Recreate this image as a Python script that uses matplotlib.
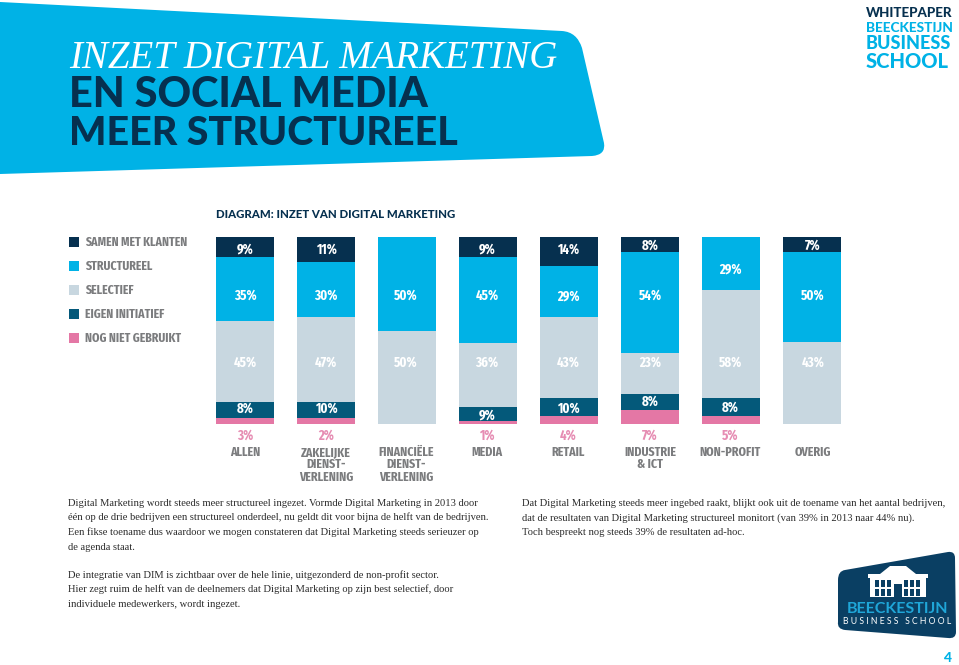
import matplotlib
matplotlib.use("Agg")
import matplotlib.pyplot as plt
import numpy as np
from matplotlib.patches import PathPatch, Rectangle
from matplotlib.path import Path

W, H = 959, 665

# bar heights as measured in the picture (percent of the column)
categories = ["ALLEN", "ZAKELIJKE\nDIENST-\nVERLENING", "FINANCIËLE\nDIENST-\nVERLENING", "MEDIA",
              "RETAIL", "INDUSTRIE\n& ICT", "NON-PROFIT", "OVERIG"]
samen = [10.7, 13.7, 0, 10.7, 15.5, 7.8, 0, 7.8]
structureel = [34.2, 29.2, 50.4, 46.3, 27.2, 53.9, 28.5, 48.4]
selectief = [43.6, 45.6, 49.6, 34.2, 43.4, 21.9, 57.7, 43.6]
eigen = [8.5, 8.5, 0, 7.1, 9.6, 8.5, 9.6, 0]
nog_niet = [3.0, 3.0, 0, 1.8, 4.1, 7.6, 4.1, 0]

# percentages as printed on the bars
samen_txt = ["9%", "11%", "", "9%", "14%", "8%", "", "7%"]
structureel_txt = ["35%", "30%", "50%", "45%", "29%", "54%", "29%", "50%"]
selectief_txt = ["45%", "47%", "50%", "36%", "43%", "23%", "58%", "43%"]
eigen_txt = ["8%", "10%", "", "9%", "10%", "8%", "8%", ""]
nog_niet_txt = ["3%", "2%", "", "1%", "4%", "7%", "5%", ""]

series_names = ["SAMEN MET KLANTEN", "STRUCTUREEL", "SELECTIEF", "EIGEN INITIATIEF", "NOG NIET GEBRUIKT"]

DARK = "#06304f"
BLUE = "#00b2e6"
GREY = "#c8d7e0"
TEAL = "#04597a"
PINK = "#e477a5"
TXT_GREY = "#7b7c7e"
NARROW = ["Fira Sans Extra Condensed", "Roboto Condensed", "Roboto", "DejaVu Sans"]
SERIF = "Liberation Serif"

fig = plt.figure(figsize=(W / 100, H / 100), dpi=100)

# page layer in pixel coordinates, on top of the chart axes
bg = fig.add_axes([0, 0, 1, 1], zorder=3)
bg.set_xlim(0, W)
bg.set_ylim(H, 0)
bg.axis("off")


def line_path(pts, fc):
    v = [p for p in pts] + [pts[0]]
    c = [Path.MOVETO] + [Path.LINETO] * (len(pts) - 1) + [Path.CLOSEPOLY]
    bg.add_patch(PathPatch(Path(v, c), fc=fc, ec="none"))


# header shape
v = [(0, 2), (562, 31), (577, 32), (582, 48), (604, 143), (606, 155), (592, 156), (0, 174), (0, 2)]
c = [Path.MOVETO, Path.LINETO, Path.CURVE3, Path.CURVE3, Path.LINETO, Path.CURVE3, Path.CURVE3, Path.LINETO, Path.CLOSEPOLY]
bg.add_patch(PathPatch(Path(v, c), fc=BLUE, ec="none"))

bg.text(69, 68, "INZET DIGITAL MARKETING", family=SERIF, style="italic", color="white", fontsize=28, va="baseline")
bg.text(69, 107, "EN SOCIAL MEDIA", family="Lato", weight="black", color=DARK, fontsize=29.9, va="baseline")
bg.text(69, 145, "MEER STRUCTUREEL", family="Lato", weight="black", color=DARK, fontsize=28.4, va="baseline")

# top right block
bg.text(866, 17, "WHITEPAPER", family="Lato", weight="black", color=DARK, fontsize=9.6, va="baseline")
bg.text(866, 32, "BEECKESTIJN", family="Lato", weight="black", color=BLUE, fontsize=9.8, va="baseline")
bg.text(866, 49, "BUSINESS", family="Lato", weight="black", color=BLUE, fontsize=13, va="baseline")
bg.text(866, 68, "SCHOOL", family="Lato", weight="black", color=BLUE, fontsize=14.5, va="baseline")

bg.text(216, 218, "DIAGRAM: INZET VAN DIGITAL MARKETING", family="Lato", weight="black", color=DARK, fontsize=8.2, va="baseline")

# chart
centres = np.arange(len(categories))
ax = fig.add_axes([204.5 / W, 1 - 424 / H, 648 / W, 187.3 / H], zorder=1)
ax.set_xlim(-0.5, 7.5)
ax.set_ylim(0, 100)
ax.axis("off")

bottom = np.zeros(len(categories))
for vals, colr, name in [(nog_niet, PINK, series_names[4]), (eigen, TEAL, series_names[3]),
                         (selectief, GREY, series_names[2]), (structureel, BLUE, series_names[1]),
                         (samen, DARK, series_names[0])]:
    ax.bar(centres, vals, width=0.72, bottom=bottom, color=colr, label=name, linewidth=0)
    bottom += np.array(vals)

handles, labels = ax.get_legend_handles_labels()
ax.legend(handles[::-1], labels[::-1], loc="upper left", bbox_to_anchor=(66.4 / W, 1 - 234 / H),
          bbox_transform=fig.transFigure, frameon=False, labelcolor=TXT_GREY,
          handlelength=0.78, handleheight=0.78, handletextpad=0.47, labelspacing=0.91,
          borderpad=0.2, borderaxespad=0, prop={"family": NARROW, "weight": "bold", "size": 9.2})

# printed percentages sit on rows in the original, not on segment centres
cx = [245, 326, 406, 487, 568.5, 650, 730.5, 813]
row_samen = [249.5, 249.5, 0, 249.5, 249.5, 245.7, 0, 245.7]
row_struct = [296, 296, 296, 296, 296, 296, 269, 296]
row_eigen = [409, 409, 0, 415.5, 409, 402, 408, 0]
for i, x in enumerate(cx):
    for y, s, colr in [(row_samen[i], samen_txt[i], "white"), (row_struct[i], structureel_txt[i], "white"),
                       (362.7, selectief_txt[i], "white"), (row_eigen[i], eigen_txt[i], "white"),
                       (436, nog_niet_txt[i], "#e68db3")]:
        if s:
            bg.text(x, y, s, family=NARROW, weight="bold", color=colr, fontsize=10, ha="center", va="center")
    bg.text(x, 446, categories[i], family=NARROW, weight="bold", color=TXT_GREY, fontsize=9.3,
            ha="center", va="top", linespacing=1.0)

# body copy
left = ["Digital Marketing wordt steeds meer structureel ingezet. Vormde Digital Marketing in 2013 door",
        "één op de drie bedrijven een structureel onderdeel, nu geldt dit voor bijna de helft van de bedrijven.",
        "Een fikse toename dus waardoor we mogen constateren dat Digital Marketing steeds serieuzer op",
        "de agenda staat."]
right = ["Dat Digital Marketing steeds meer ingebed raakt, blijkt ook uit de toename van het aantal bedrijven,",
         "dat de resultaten van Digital Marketing structureel monitort (van 39% in 2013 naar 44% nu).",
         "Toch bespreekt nog steeds 39% de resultaten ad-hoc."]
lower = ["De integratie van DIM is zichtbaar over de hele linie, uitgezonderd de non-profit sector.",
         "Hier zegt ruim de helft van de deelnemers dat Digital Marketing op zijn best selectief, door",
         "individuele medewerkers, wordt ingezet."]
for lines, x, y0 in [(left, 68, 506), (right, 522, 506), (lower, 68, 578)]:
    for i, s in enumerate(lines):
        bg.text(x, y0 + i * 14.5, s, family=SERIF, color="#2b2b2b", fontsize=7.6, va="baseline")

# logo
v = [(845, 570), (838, 571), (838, 580), (838, 622), (837, 629), (845, 630), (948, 638), (956, 639), (956, 632),
     (955, 558), (955, 551), (948, 552), (845, 570)]
c = [Path.MOVETO, Path.CURVE3, Path.CURVE3, Path.LINETO, Path.CURVE3, Path.CURVE3, Path.LINETO, Path.CURVE3, Path.CURVE3,
     Path.LINETO, Path.CURVE3, Path.CURVE3, Path.CLOSEPOLY]
bg.add_patch(PathPatch(Path(v, c), fc="#0a3f63", ec="none"))
line_path([(868, 574), (880, 574), (890, 566), (906, 566), (916, 574), (928, 574), (928, 578), (868, 578)], "white")
bg.add_patch(Rectangle((870, 578), 56, 19, fc="white", ec="none"))
for wx in [876, 882, 888, 905, 911, 917]:
    for wy in [580, 589]:
        bg.add_patch(Rectangle((wx - 1, wy), 4.2, 6.5, fc="#0a3f63", ec="none"))
bg.add_patch(Rectangle((894, 584), 8, 13, fc="#0a3f63", ec="none"))
bg.text(897, 609, "BEECKESTIJN", family="Lato", weight="bold", color="#1fa6d8", fontsize=11.5, ha="center", va="center")
bg.text(897, 622, "B U S I N E S S   S C H O O L", family="Lato", color="white", fontsize=6.2, ha="center", va="center")

bg.text(947, 658, "4", family="Lato", weight="black", color=BLUE, fontsize=10, ha="center", va="center")

fig.savefig("out.png", dpi=100)
